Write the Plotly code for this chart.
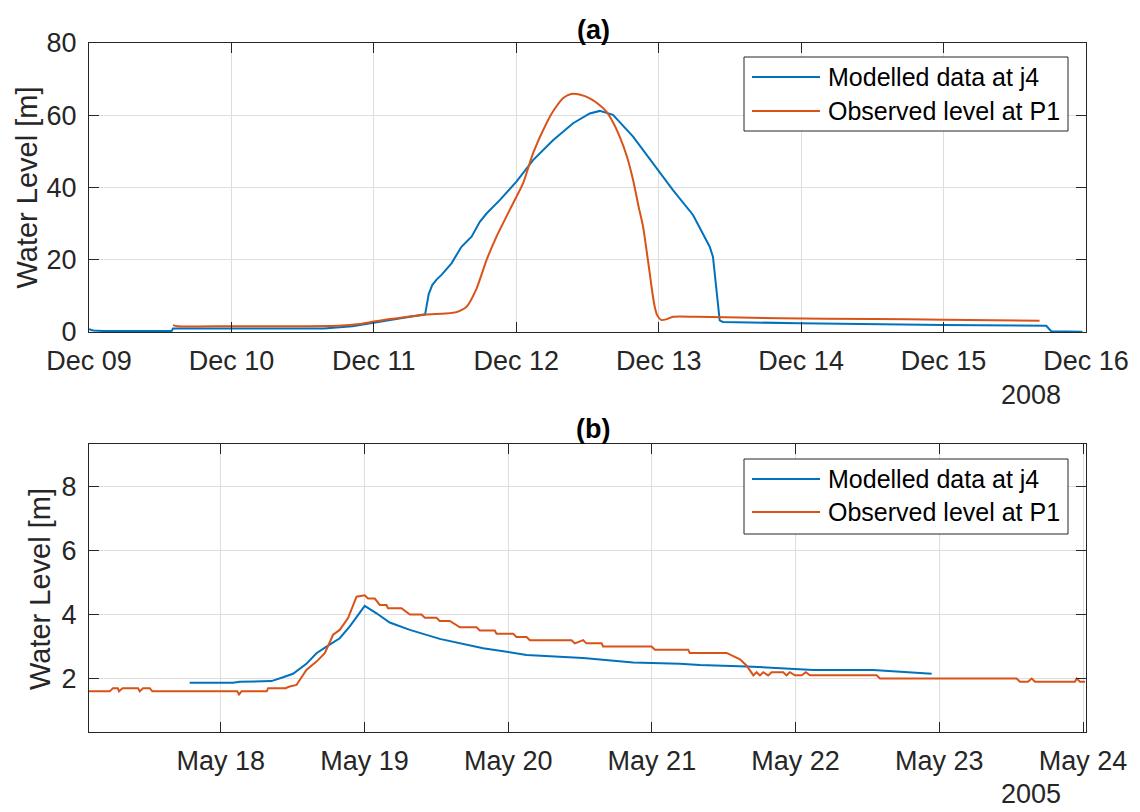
import pandas as pd
import plotly.graph_objects as go

FIG_W, FIG_H = 1140, 812
# plot-area pixel bounds shared by both panels
LEFT, RIGHT, TOP, BOTTOM = 89, 1086, 43, 732
PANEL_A_BOTTOM, PANEL_B_TOP = 332, 444

FONT = "Liberation Sans, Arial, Helvetica, sans-serif"
INK = "#262626"
GRID = "#dedede"
BLUE = "#0072BD"
ORANGE = "#D95319"

# ---- (a) December 2008 event, time in days from 2008-12-09 00:00 ----
start_a = "2008-12-09"
mod_a_days = [0.0, 0.03, 0.10, 0.58, 0.59, 1.00, 1.40, 1.65, 1.85, 2.00, 2.20,
              2.36, 2.385, 2.41, 2.44, 2.475, 2.545, 2.615, 2.686, 2.744, 2.791,
              2.884, 3.001, 3.118, 3.258, 3.399, 3.516, 3.586, 3.679, 3.820,
              3.960, 4.100, 4.241, 4.358, 4.381, 4.405, 4.428, 4.45, 4.849,
              4.989, 5.995, 6.721, 6.756, 6.975]
mod_a_level = [0.8, 0.4, 0.3, 0.3, 1.0, 1.0, 1.0, 1.0, 1.6, 2.5, 3.9,
               4.9, 10.5, 13.0, 14.5, 15.8, 19.0, 23.6, 26.4, 30.5, 32.8,
               36.5, 41.6, 47.6, 53.1, 57.8, 60.5, 61.2, 60.1, 54.1,
               46.7, 39.3, 32.4, 23.6, 20.8, 10.7, 3.2, 2.8, 2.5,
               2.4, 1.95, 1.7, 0.2, 0.1]
obs_a_days = [0.59, 0.62, 1.0, 1.5, 1.75, 1.90, 2.00, 2.10, 2.20, 2.358, 2.50,
              2.580, 2.651, 2.721, 2.791, 2.861, 2.954, 3.048, 3.118, 3.212,
              3.27, 3.33, 3.386, 3.45, 3.516, 3.58, 3.633, 3.68, 3.726, 3.775,
              3.820, 3.860, 3.890, 3.915, 3.937, 3.955, 3.972, 3.99, 4.019,
              4.06, 4.100, 4.265, 4.849, 5.5, 6.0, 6.674]
obs_a_level = [1.9, 1.6, 1.6, 1.6, 1.7, 2.2, 2.9, 3.5, 4.0, 4.8, 5.1,
               5.5, 7.0, 12.0, 19.9, 26.4, 33.8, 41.2, 49.5, 57.8,
               61.8, 64.8, 65.9, 65.7, 64.7, 63.0, 61.0, 58.0, 54.1, 48.8,
               42.1, 34.5, 29.2, 22.5, 16.2, 11.0, 7.0, 4.6, 3.3,
               3.6, 4.2, 4.2, 3.8, 3.6, 3.4, 3.1]

# ---- (b) May 2005 event, time in days from 2005-05-18 00:00 ----
start_b = "2005-05-18"
mod_b_days = [-0.216, 0.086, 0.132, 0.353, 0.434, 0.503, 0.596, 0.666, 0.736,
              0.828, 0.898, 1.002, 1.084, 1.176, 1.316, 1.524, 1.826, 2.128,
              2.522, 2.870, 3.195, 3.334, 3.659, 4.123, 4.540, 4.947]
mod_b_level = [1.87, 1.87, 1.9, 1.92, 2.04, 2.15, 2.46, 2.79, 3.0,
               3.26, 3.63, 4.27, 4.04, 3.75, 3.52, 3.24, 2.95, 2.74,
               2.64, 2.5, 2.46, 2.42, 2.38, 2.27, 2.27, 2.15]
obs_b_days = [-0.917, -0.772, -0.750, -0.716, -0.708, -0.684, -0.575, -0.564,
              -0.541, -0.494, -0.476, 0.115, 0.127, 0.145, 0.32, 0.33, 0.45,
              0.48, 0.527, 0.596, 0.666, 0.724, 0.782, 0.828, 0.886, 0.945,
              1.002, 1.025, 1.072, 1.107, 1.153, 1.164, 1.258, 1.316, 1.397,
              1.420, 1.501, 1.524, 1.594, 1.664, 1.780, 1.803, 1.907, 1.919,
              2.035, 2.058, 2.128, 2.151, 2.441, 2.464, 2.522, 2.545, 2.650,
              2.661, 2.998, 3.021, 3.253, 3.264, 3.520, 3.566, 3.613, 3.660,
              3.706, 3.729, 3.752, 3.775, 3.809, 3.833, 3.914, 3.937, 3.960,
              3.995, 4.042, 4.072, 4.100, 4.564, 4.587, 5.538, 5.561, 5.617,
              5.643, 5.666, 5.944, 5.956, 5.979, 6.014]
obs_b_level = [1.6, 1.6, 1.7, 1.7, 1.6, 1.7, 1.7, 1.6,
               1.7, 1.7, 1.6, 1.6, 1.5, 1.6, 1.6, 1.7, 1.7,
               1.75, 1.8, 2.27, 2.53, 2.79, 3.37, 3.52, 3.89, 4.56,
               4.6, 4.5, 4.5, 4.3, 4.3, 4.2, 4.2, 4.0, 4.0,
               3.9, 3.9, 3.8, 3.8, 3.6, 3.6, 3.5, 3.5, 3.4,
               3.4, 3.3, 3.3, 3.2, 3.2, 3.1, 3.2, 3.1, 3.1,
               3.0, 3.0, 2.9, 2.9, 2.8, 2.8, 2.7, 2.6, 2.4,
               2.1, 2.2, 2.1, 2.2, 2.1, 2.2, 2.2, 2.1, 2.2,
               2.1, 2.1, 2.2, 2.1, 2.1, 2.0, 2.0, 1.9, 1.9,
               2.0, 1.9, 1.9, 2.0, 1.9, 1.9]

series_names = ["Modelled data at j4", "Observed level at P1"]
panel_titles = ["(a)", "(b)"]
years = ["2008", "2005"]
yticks_a = [0, 20, 40, 60, 80]
yticks_b = [2, 4, 6, 8]


def to_time(start, days):
    return pd.Timestamp(start) + pd.to_timedelta(days, unit="D")


def px_x(x):
    return (x - LEFT) / (RIGHT - LEFT)


def px_y(y):
    return (BOTTOM - y) / (BOTTOM - TOP)


fig = go.Figure()
line_style = dict(width=2)
fig.add_trace(go.Scatter(x=to_time(start_a, mod_a_days), y=mod_a_level, mode="lines",
                         line=dict(color=BLUE, **line_style), name=series_names[0],
                         showlegend=False, xaxis="x", yaxis="y"))
fig.add_trace(go.Scatter(x=to_time(start_a, obs_a_days), y=obs_a_level, mode="lines",
                         line=dict(color=ORANGE, shape="spline", smoothing=0.6, **line_style),
                         name=series_names[1], showlegend=False, xaxis="x", yaxis="y"))
fig.add_trace(go.Scatter(x=to_time(start_b, mod_b_days), y=mod_b_level, mode="lines",
                         line=dict(color=BLUE, **line_style), name=series_names[0],
                         showlegend=False, xaxis="x2", yaxis="y2"))
fig.add_trace(go.Scatter(x=to_time(start_b, obs_b_days), y=obs_b_level, mode="lines",
                         line=dict(color=ORANGE, **line_style), name=series_names[1],
                         showlegend=False, xaxis="x2", yaxis="y2"))

axis_common = dict(showline=True, linecolor=INK, linewidth=1, mirror="ticks",
                   ticks="inside", ticklen=10, tickcolor=INK, tickwidth=1,
                   showgrid=True, gridcolor=GRID, gridwidth=1, zeroline=False,
                   tickfont=dict(family=FONT, size=27, color=INK))

fig.update_layout(
    width=FIG_W, height=FIG_H,
    margin=dict(l=LEFT, r=FIG_W - RIGHT, t=TOP, b=FIG_H - BOTTOM, pad=0),
    paper_bgcolor="white", plot_bgcolor="white",
    showlegend=False,
    xaxis=dict(axis_common, domain=[0, 1], anchor="y",
               range=[pd.Timestamp("2008-12-09"), pd.Timestamp("2008-12-16")],
               type="date", tick0="2008-12-09", dtick=86400000, tickformat="%b %d",
               ticklabelstandoff=5),
    yaxis=dict(axis_common, domain=[px_y(PANEL_A_BOTTOM), 1], anchor="x",
               range=[0, 80], tickvals=yticks_a, ticklabelstandoff=6),
    xaxis2=dict(axis_common, domain=[0, 1], anchor="y2",
                range=[pd.Timestamp("2005-05-17 02:00"), pd.Timestamp("2005-05-24 00:30")],
                type="date", tick0="2005-05-18", dtick=86400000, tickformat="%b %d",
                ticklabelstandoff=5),
    yaxis2=dict(axis_common, domain=[0, px_y(PANEL_B_TOP)], anchor="x2",
                range=[0.33, 9.33], tickvals=yticks_b, ticklabelstandoff=6),
)

annotations = []
shapes = []

# panel titles, y-axis labels and year labels
for title, ty in zip(panel_titles, [30, 429]):
    annotations.append(dict(text="<b>%s</b>" % title, x=px_x(593), y=px_y(ty),
                            xref="paper", yref="paper", showarrow=False,
                            xanchor="center", yanchor="middle",
                            font=dict(family=FONT, size=27, color="black")))
for lx, ly in [(26, 187.5), (40, 589)]:
    annotations.append(dict(text="Water Level [m]", x=px_x(lx), y=px_y(ly),
                            xref="paper", yref="paper", showarrow=False, textangle=-90,
                            xanchor="center", yanchor="middle",
                            font=dict(family=FONT, size=29, color=INK)))
for year, yy in zip(years, [412, 811]):
    annotations.append(dict(text=year, x=px_x(1031), y=px_y(yy),
                            xref="paper", yref="paper", showarrow=False,
                            xanchor="center", yanchor="bottom",
                            font=dict(family=FONT, size=27, color=INK)))

# boxed legends in the upper-right of each panel
for box_top, box_bottom, rows in [(57, 131, (77, 111)), (459, 534, (479, 512))]:
    shapes.append(dict(type="rect", xref="paper", yref="paper",
                       x0=px_x(744), x1=px_x(1068), y0=px_y(box_bottom), y1=px_y(box_top),
                       line=dict(color=INK, width=1), fillcolor="white", layer="above"))
    for name, color, ry in zip(series_names, [BLUE, ORANGE], rows):
        shapes.append(dict(type="line", xref="paper", yref="paper",
                           x0=px_x(752), x1=px_x(820), y0=px_y(ry), y1=px_y(ry),
                           line=dict(color=color, width=2), layer="above"))
        annotations.append(dict(text=name, x=px_x(826), y=px_y(ry),
                                xref="paper", yref="paper", showarrow=False,
                                xanchor="left", yanchor="middle",
                                font=dict(family=FONT, size=25, color="black")))

fig.update_layout(annotations=annotations, shapes=shapes)
fig.write_html("out.html")
